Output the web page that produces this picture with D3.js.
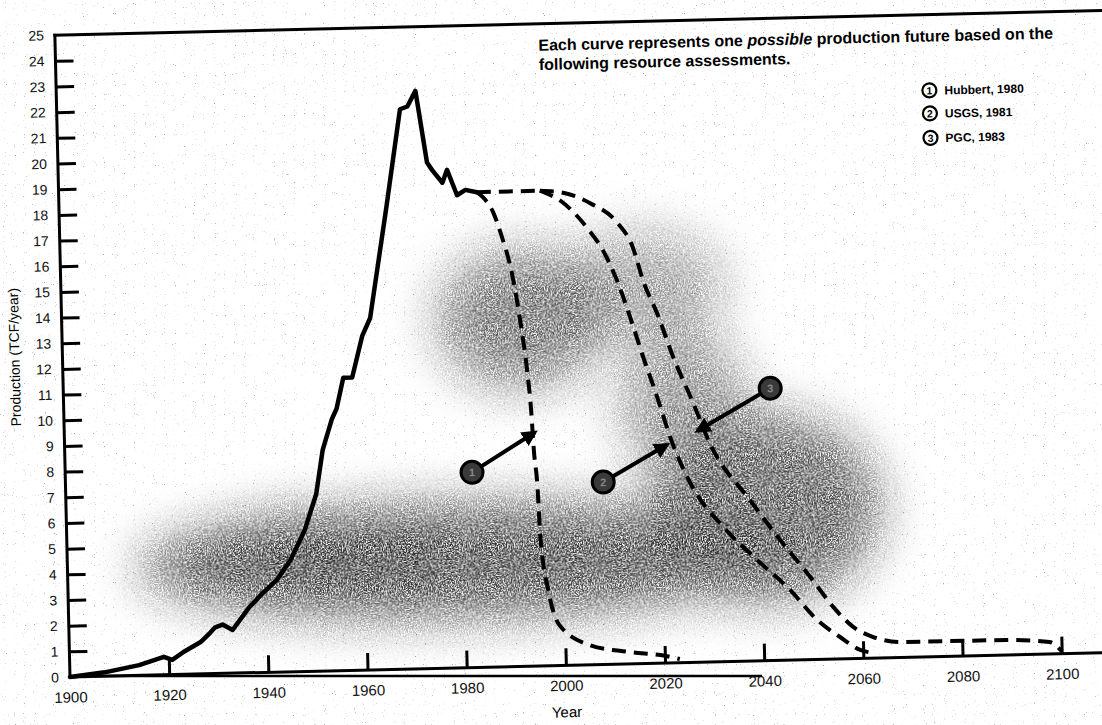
<!DOCTYPE html>
<head>
    <meta charset="utf-8">
    <title>Natural Gas Production Futures</title>
    <style>
        body { margin: 0; background: #fff; }
        svg { display: block; font-family: "Liberation Sans", Arial, Helvetica, sans-serif; }
        .axis text { fill: #111; }
        .y-axis text { font-size: 14px; }
        .x-axis text { font-size: 15px; }
        .axis line { stroke: #000; stroke-width: 3px; }
        .frame { stroke: #000; stroke-width: 3px; }
        .past { fill: none; stroke: #000; stroke-width: 4.5px; stroke-linejoin: round; stroke-linecap: round; }
        .future { fill: none; stroke: #000; stroke-width: 4px; stroke-dasharray: 14 8; }
        .note { font-size: 16px; font-weight: bold; fill: #000; }
        .legend text { font-size: 12px; font-weight: bold; }
    </style>
</head>
<body>
<svg width="1102" height="725"></svg>
<script src="https://d3js.org/d3.v7.min.js"></script>
<script>

// historical production (solid)
var pastYears = [1900, 1907, 1914, 1919, 1920.7, 1923, 1926.5, 1928.5, 1929.5, 1931, 1933, 1934.5, 1936.5, 1939.3,
                 1942.2, 1945, 1948, 1950.5, 1952, 1954, 1955, 1956.5, 1958.3, 1960.5, 1962.2, 1966, 1969.2,
                 1970.7, 1972.4, 1974.4, 1975.4, 1977.4, 1978.4, 1980.3, 1982, 1984.3];
var pastProd  = [0, 0.15, 0.4, 0.7, 0.57, 0.87, 1.24, 1.6, 1.8, 1.9, 1.68, 2.06, 2.56, 3.1,
                 3.6, 4.35, 5.5, 6.9, 8.6, 9.8, 10.2, 11.4, 11.4, 13.0, 13.7, 18.0, 21.8,
                 21.9, 22.5, 19.7, 19.4, 18.9, 19.4, 18.4, 18.6, 18.5];

// shared plateau of the projections
var plateauYears = [1984.3, 1997];
var plateauProd  = [18.5, 18.5];

// (1) Hubbert
var hubbertYears = [1984.3, 1985.5, 1987.5, 1989.2, 1991, 1992.4, 1993.6, 1994.2, 1994.6, 1995.1, 1995.5,
                    1996.8, 1998.9, 2004.9, 2013, 2020, 2023];
var hubbertProd  = [18.5, 18.3, 17.7, 16.7, 15.3, 13.5, 11.5, 10, 8.3, 7.1, 4.9,
                    2.95, 1.57, 0.77, 0.46, 0.28, 0.14];

// (2) USGS
var usgsYears = [1997, 2001.7, 2006.4, 2009.5, 2012.2, 2014.6, 2017.1, 2019.7, 2022.1, 2025.9, 2032.4,
                 2039.1, 2045.6, 2050.9, 2055.4, 2059.4, 2062];
var usgsProd  = [18.5, 18.0, 17.0, 16.1, 14.9, 13.5, 11.9, 10.35, 8.8, 7.0, 5.24,
                 3.92, 2.72, 1.53, 0.85, 0.33, 0.2];

// (3) PGC
var pgcYears = [1997, 2001.7, 2007.1, 2012.4, 2015.5, 2017.4, 2020.1, 2023.1, 2026.9, 2030.1, 2037.9,
                2043.8, 2049.7, 2054.2, 2058.1, 2062.1, 2067.5, 2089, 2097.6, 2100];
var pgcProd  = [18.5, 18.4, 17.97, 17.2, 16.2, 14.9, 13.6, 11.9, 10.1, 8.5, 6.26,
                4.68, 3.21, 2.02, 1.23, 0.82, 0.6, 0.58, 0.46, 0.1];

// numbered callouts: circle position -> arrow tip on the curve
var calloutLabels = ["1", "2", "3"];
var calloutYears  = [1982, 2008.4, 2042.5];
var calloutProd   = [7.6, 7.1, 10.6];
var tipYears      = [1994.9, 2021.5, 2027.6];
var tipProd       = [9.1, 8.5, 9.0];

var legendLabels = ["Hubbert, 1980", "USGS, 1981", "PGC, 1983"];
var yTicks = d3.range(0, 26);
var xTicks = d3.range(1900, 2101, 20);

var svg = d3.select("svg");

var x = d3.scaleLinear().domain([1900, 2100]).range([70, 1062]);
var y = d3.scaleLinear().domain([0, 25]).range([677, 35]);

// scan artefact line under the axis
svg.append("line")
    .attr("x1", 75).attr("x2", 762).attr("y1", 676).attr("y2", 676)
    .attr("stroke", "#000").attr("stroke-width", 2.5);

// the scanned page is slightly turned
var g = svg.append("g").attr("transform", "rotate(-1.35,70,677)");

var defs = svg.append("defs");
var grain = defs.append("filter").attr("id", "grain")
    .attr("filterUnits", "userSpaceOnUse")
    .attr("x", -100).attr("y", -100).attr("width", 1350).attr("height", 950);
grain.append("feGaussianBlur").attr("in", "SourceGraphic").attr("stdDeviation", 24).attr("result", "blur");
grain.append("feTurbulence").attr("type", "fractalNoise").attr("baseFrequency", 0.75)
    .attr("numOctaves", 2).attr("seed", 4).attr("result", "noise");
grain.append("feColorMatrix").attr("in", "noise").attr("type", "matrix")
    .attr("values", "0 0 0 0 0  0 0 0 0 0  0 0 0 0 0  3.2 0 0 0 -1.0").attr("result", "mask");
grain.append("feComposite").attr("in", "blur").attr("in2", "mask").attr("operator", "in");

var speck = defs.append("filter").attr("id", "speck")
    .attr("filterUnits", "userSpaceOnUse")
    .attr("x", 0).attr("y", 0).attr("width", 1102).attr("height", 725);
speck.append("feTurbulence").attr("type", "fractalNoise").attr("baseFrequency", 0.9)
    .attr("numOctaves", 1).attr("seed", 9).attr("result", "noise");
speck.append("feColorMatrix").attr("in", "noise").attr("type", "matrix")
    .attr("values", "0 0 0 0 0  0 0 0 0 0  0 0 0 0 0  9 0 0 0 -6.2");

defs.append("marker").attr("id", "head")
    .attr("viewBox", "0 0 10 10").attr("refX", 8).attr("refY", 5)
    .attr("markerWidth", 4).attr("markerHeight", 4).attr("orient", "auto")
    .append("path").attr("d", "M0,0L10,5L0,10Z").attr("fill", "#000");

// light speckle over the page
svg.insert("rect", ":first-child")
    .attr("width", 1102).attr("height", 725)
    .attr("fill", "#000").attr("opacity", 0.35)
    .attr("filter", "url(#speck)");

// grey photocopy smudges
var smudgeShapes = [
    { cx: 470, cy: 570, rx: 330, ry: 58, o: 0.95 },
    { cx: 320, cy: 565, rx: 130, ry: 48, o: 0.7 },
    { cx: 530, cy: 330, rx: 85, ry: 70, o: 0.75 },
    { cx: 650, cy: 300, rx: 85, ry: 55, o: 0.5 },
    { cx: 770, cy: 525, rx: 115, ry: 95, o: 0.85 },
    { cx: 690, cy: 420, rx: 65, ry: 75, o: 0.6 }
];
g.append("g").attr("filter", "url(#grain)")
    .selectAll("ellipse").data(smudgeShapes).enter().append("ellipse")
    .attr("cx", function(d) { return d.cx; })
    .attr("cy", function(d) { return d.cy; })
    .attr("rx", function(d) { return d.rx; })
    .attr("ry", function(d) { return d.ry; })
    .attr("fill", "#1a1a1a")
    .attr("fill-opacity", function(d) { return d.o; });

// axes
var yAxis = g.append("g").attr("class", "axis y-axis")
    .attr("transform", "translate(" + x(1900) + ",0)")
    .call(d3.axisLeft(y).tickValues(yTicks).tickSizeInner(-18).tickSizeOuter(0).tickPadding(11).tickFormat(d3.format("d")));
yAxis.select(".domain").remove();
yAxis.selectAll(".tick").filter(function(d) { return d === 0 || d === 25; }).select("line").remove();

var xAxis = g.append("g").attr("class", "axis x-axis")
    .attr("transform", "translate(0," + y(0) + ")")
    .call(d3.axisBottom(x).tickValues(xTicks).tickSizeInner(-17).tickSizeOuter(0).tickPadding(15).tickFormat(d3.format("d")));
xAxis.select(".domain").remove();
xAxis.selectAll(".tick").filter(function(d) { return d === 1900; }).select("line").remove();

var right = x.range()[1] + 60;
g.append("line").attr("class", "frame")
    .attr("x1", x(1900)).attr("x2", x(1900)).attr("y1", y(0)).attr("y2", y(25) - 1.5);
g.append("line").attr("class", "frame")
    .attr("x1", x(1900)).attr("x2", right).attr("y1", y(0)).attr("y2", y(0));
g.append("line").attr("class", "frame")
    .attr("x1", x(1900) - 1.5).attr("x2", right).attr("y1", y(25)).attr("y2", y(25));

g.append("text")
    .attr("transform", "translate(27," + (y(12.5)) + ") rotate(-90)")
    .attr("text-anchor", "middle")
    .style("font-size", "14px")
    .text("Production (TCF/year)");

g.append("text")
    .attr("x", x(2000)).attr("y", 729)
    .attr("text-anchor", "middle")
    .style("font-size", "15px")
    .text("Year");

// curves
function pairs(xs, ys) { return xs.map(function(v, i) { return [v, ys[i]]; }); }

var solid = d3.line().x(function(d) { return x(d[0]); }).y(function(d) { return y(d[1]); });
var smooth = d3.line().x(function(d) { return x(d[0]); }).y(function(d) { return y(d[1]); }).curve(d3.curveMonotoneX);

g.append("path").attr("class", "future").attr("d", solid(pairs(plateauYears, plateauProd)));
g.append("path").attr("class", "future").attr("d", smooth(pairs(hubbertYears, hubbertProd)));
g.append("path").attr("class", "future").attr("d", smooth(pairs(usgsYears, usgsProd)));
g.append("path").attr("class", "future").attr("d", smooth(pairs(pgcYears, pgcProd)));
g.append("path").attr("class", "past").attr("d", solid(pairs(pastYears, pastProd)));

// callouts
var callouts = g.append("g");
calloutLabels.forEach(function(lab, i) {
    var cx = x(calloutYears[i]), cy = y(calloutProd[i]);
    var tx = x(tipYears[i]), ty = y(tipProd[i]);
    var len = Math.hypot(tx - cx, ty - cy), r = 11;
    callouts.append("line")
        .attr("x1", cx + (tx - cx) * r / len).attr("y1", cy + (ty - cy) * r / len)
        .attr("x2", tx).attr("y2", ty)
        .attr("stroke", "#000").attr("stroke-width", 4)
        .attr("marker-end", "url(#head)");
    callouts.append("circle")
        .attr("cx", cx).attr("cy", cy).attr("r", r)
        .attr("fill", "#3a3a3a").attr("stroke", "#000").attr("stroke-width", 3);
    callouts.append("text")
        .attr("x", cx).attr("y", cy + 4)
        .attr("text-anchor", "middle")
        .style("font-size", "11px").style("font-weight", "bold")
        .attr("fill", "#888")
        .text(lab);
});

// note and legend
var note = g.append("text").attr("class", "note")
    .attr("x", x(1997.4)).attr("y", y(23.95));
note.append("tspan").text("Each curve represents one ");
note.append("tspan").style("font-style", "italic").text("possible");
note.append("tspan").text(" production future based on the");
g.append("text").attr("class", "note")
    .attr("x", x(1997.4)).attr("y", y(23.2))
    .text("following resource assessments.");

var legend = g.append("g").attr("class", "legend");
var legendVals = [22.05, 21.15, 20.2];
legendLabels.forEach(function(lab, i) {
    var ly = y(legendVals[i]);
    legend.append("circle")
        .attr("cx", x(2076)).attr("cy", ly).attr("r", 7)
        .attr("fill", "#fff").attr("stroke", "#000").attr("stroke-width", 2.2);
    legend.append("text")
        .attr("x", x(2076)).attr("y", ly + 4)
        .attr("text-anchor", "middle")
        .style("font-size", "10.5px")
        .text(i + 1);
    legend.append("text")
        .attr("x", x(2076) + 15).attr("y", ly + 4.5)
        .text(lab);
});

</script>
</body>
</html>
